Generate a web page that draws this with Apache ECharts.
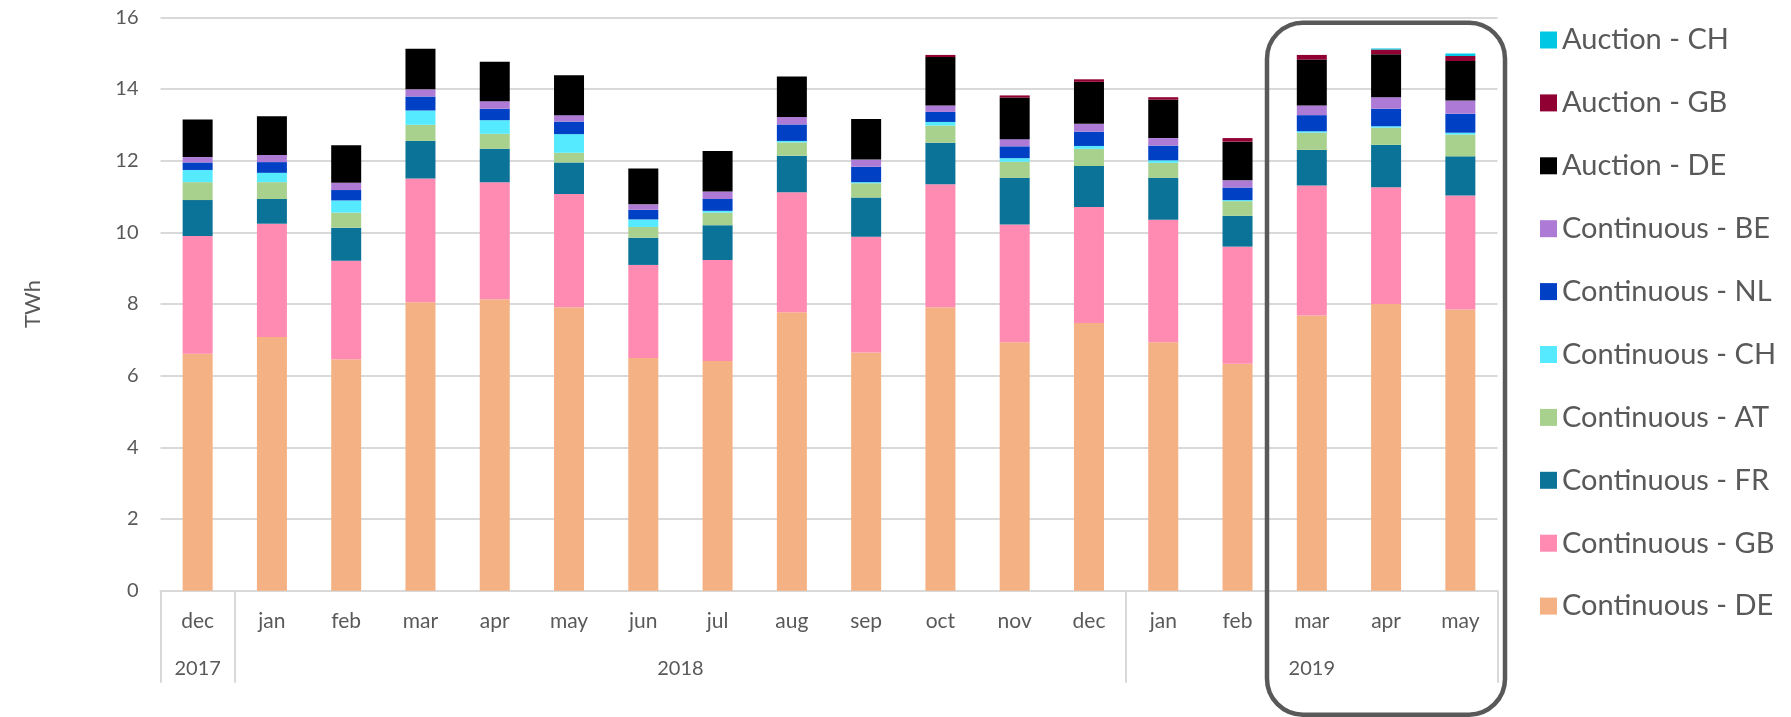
<!DOCTYPE html>
<html>
<head>
<meta charset="utf-8">
<title>Intraday volumes</title>
<script src="https://cdn.jsdelivr.net/npm/echarts@6/dist/echarts.min.js"></script>
<style>
  html, body { margin: 0; padding: 0; background: #fff; }
  #chart { width: 1791px; height: 717px; }
</style>
</head>
<body>
<div id="chart"></div>
<script>
// month labels + year groups (span = number of months in each year)
const months = ['dec', 'jan', 'feb', 'mar', 'apr', 'may', 'jun', 'jul', 'aug', 'sep', 'oct', 'nov', 'dec', 'jan', 'feb', 'mar', 'apr', 'may']
const years = ['2017', '2018', '2019']
const yearSpans = [1, 12, 5]

// TWh
const contDE = [6.61, 7.08, 6.46, 8.05, 8.13, 7.91, 6.49, 6.41, 7.77, 6.65, 7.91, 6.93, 7.47, 6.93, 6.33, 7.68, 8.00, 7.85]
const contGB = [3.29, 3.16, 2.75, 3.45, 3.27, 3.16, 2.60, 2.82, 3.35, 3.23, 3.43, 3.29, 3.24, 3.42, 3.27, 3.63, 3.26, 3.18]
const contFR = [1.00, 0.69, 0.92, 1.05, 0.93, 0.88, 0.76, 0.97, 1.02, 1.09, 1.16, 1.30, 1.14, 1.17, 0.86, 0.99, 1.18, 1.09]
const contAT = [0.50, 0.47, 0.42, 0.45, 0.42, 0.27, 0.30, 0.35, 0.37, 0.40, 0.48, 0.45, 0.48, 0.42, 0.41, 0.48, 0.48, 0.61]
const contCH = [0.34, 0.26, 0.34, 0.40, 0.38, 0.52, 0.21, 0.05, 0.04, 0.03, 0.10, 0.10, 0.08, 0.07, 0.03, 0.04, 0.04, 0.05]
const contNL = [0.21, 0.30, 0.29, 0.39, 0.32, 0.35, 0.27, 0.33, 0.46, 0.43, 0.28, 0.33, 0.40, 0.41, 0.35, 0.45, 0.49, 0.53]
const contBE = [0.15, 0.20, 0.20, 0.20, 0.21, 0.18, 0.15, 0.21, 0.21, 0.20, 0.18, 0.20, 0.22, 0.21, 0.20, 0.27, 0.32, 0.37]
const aucDE = [1.05, 1.08, 1.05, 1.13, 1.10, 1.11, 1.00, 1.13, 1.13, 1.13, 1.35, 1.16, 1.17, 1.07, 1.08, 1.28, 1.20, 1.10]
const aucGB = [0, 0, 0, 0, 0, 0, 0, 0, 0, 0, 0.06, 0.06, 0.07, 0.07, 0.10, 0.13, 0.13, 0.14]
const aucCH = [0, 0, 0, 0, 0, 0, 0, 0, 0, 0, 0, 0, 0, 0, 0, 0, 0.03, 0.07]

const seriesList = [
  {name: 'Continuous - DE', color: '#F4B183', data: contDE},
  {name: 'Continuous - GB', color: '#FF8AB2', data: contGB},
  {name: 'Continuous - FR', color: '#0C7398', data: contFR},
  {name: 'Continuous - AT', color: '#A9D18E', data: contAT},
  {name: 'Continuous - CH', color: '#55EAFF', data: contCH},
  {name: 'Continuous - NL', color: '#0040C4', data: contNL},
  {name: 'Continuous - BE', color: '#AD7BD6', data: contBE},
  {name: 'Auction - DE', color: '#000000', data: aucDE},
  {name: 'Auction - GB', color: '#900033', data: aucGB},
  {name: 'Auction - CH', color: '#00C8E4', data: aucCH},
]

// year labels sit in the middle of their group, separators on group edges
const yearCenters = []
const yearEdges = [0]
let acc = 0
yearSpans.forEach(function (s) {
  yearCenters.push(acc + s / 2)
  acc += s
  yearEdges.push(acc)
})

const font = 'Lato, "Open Sans", sans-serif'
const txt = '#595959'

const chart = echarts.init(document.getElementById('chart'))
const option = {
  animation: false,
  textStyle: {fontFamily: font},
  grid: {left: 160.5, right: 293.5, top: 17.3, bottom: 126.3},
  legend: {
    orient: 'vertical',
    left: 1535,
    top: 18,
    icon: 'rect',
    itemWidth: 17,
    itemHeight: 17,
    itemGap: 28.9,
    data: seriesList.map(s => s.name).reverse(),
    textStyle: {color: txt, fontSize: 29, lineHeight: 34, fontFamily: font}
  },
  xAxis: [
    {
      type: 'category',
      data: months,
      axisLine: {lineStyle: {color: '#d9d9d9', width: 2}},
      axisTick: {show: false},
      axisLabel: {color: txt, fontSize: 21, margin: 20, interval: 0}
    },
    {
      type: 'value',
      min: 0,
      max: months.length,
      position: 'bottom',
      axisLine: {show: false},
      splitLine: {show: false},
      axisTick: {show: true, customValues: yearEdges, length: 92, lineStyle: {color: '#d9d9d9', width: 2}},
      axisLabel: {
        color: txt, fontSize: 20, margin: 68,
        customValues: yearCenters,
        formatter: function (v) {
          return years[yearCenters.indexOf(v)] || ''
        }
      }
    }
  ],
  yAxis: {
    type: 'value',
    min: 0,
    max: 16,
    interval: 2,
    name: 'TWh',
    nameLocation: 'middle',
    nameRotate: 90,
    nameGap: 117,
    nameTextStyle: {color: txt, fontSize: 22},
    axisLine: {show: false},
    axisTick: {show: false},
    axisLabel: {color: txt, fontSize: 20, margin: 22},
    splitLine: {lineStyle: {color: '#d9d9d9', width: 2}}
  },
  series: seriesList.map(function (s) {
    return {
      name: s.name,
      type: 'bar',
      stack: 'total',
      barWidth: 30,
      xAxisIndex: 0,
      itemStyle: {color: s.color},
      data: s.data
    }
  }),
  graphic: [
    {
      type: 'rect',
      z: 100,
      shape: {x: 1267, y: 22.7, width: 238, height: 692, r: 36},
      style: {fill: 'none', stroke: '#595959', lineWidth: 4.5}
    }
  ]
}
chart.setOption(option)
window.addEventListener('resize', function () {
  chart.resize();
});
</script>
</body>
</html>
